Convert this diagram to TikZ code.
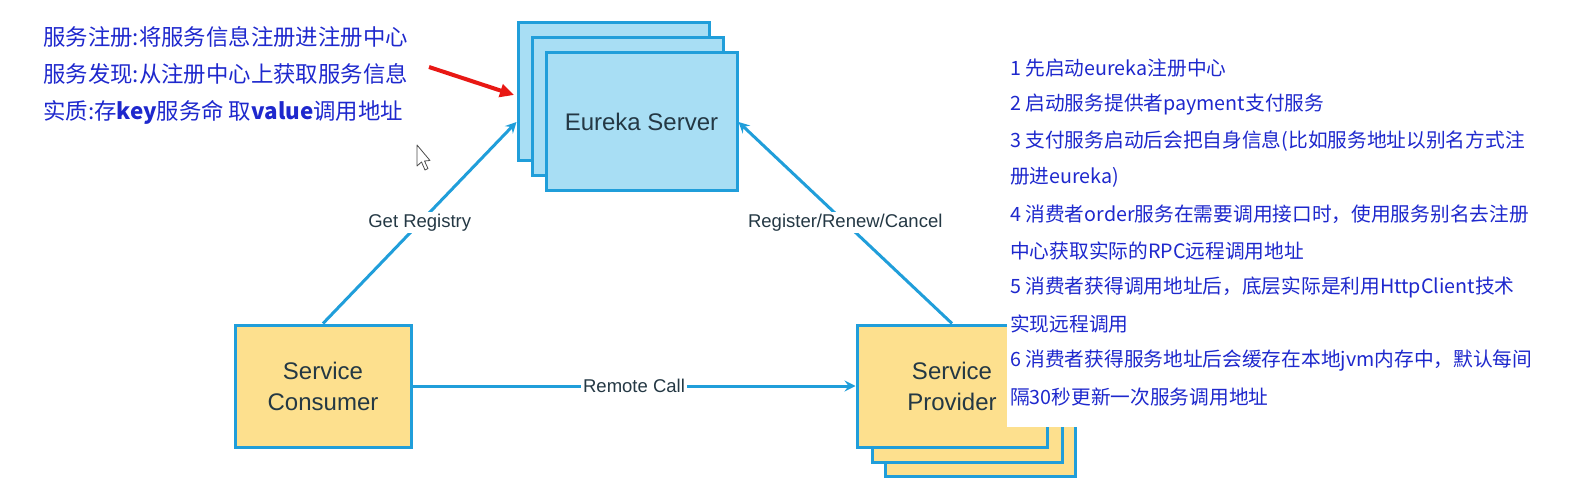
\documentclass[tikz,border=0pt]{standalone}
\usepackage{fontspec}
\setmainfont{Liberation Sans}
\newfontfamily\cjk{Noto Sans CJK SC}
\usetikzlibrary{arrows.meta}

\definecolor{eurekafill}{RGB}{168,222,244}
\definecolor{edgeblue}{RGB}{32,158,218}
\definecolor{svcfill}{RGB}{253,224,142}
\definecolor{labeltext}{RGB}{36,56,68}
\definecolor{noteblue}{RGB}{30,40,205}
\definecolor{pointred}{RGB}{232,24,20}

\begin{document}
\begin{tikzpicture}[x=1pt,y=-1pt,
    eurekabox/.style={draw=edgeblue,line width=3pt,fill=eurekafill,minimum width=191pt,minimum height=138pt,inner sep=0pt,text=labeltext},
    servicebox/.style={draw=edgeblue,line width=3pt,fill=svcfill,minimum width=190pt,minimum height=122pt,inner sep=0pt,text=labeltext,align=center,font=\fontsize{24}{31}\selectfont},
    flowarrow/.style={draw=edgeblue,line width=3pt,-{Stealth[length=11pt,width=11pt,inset=4pt]}},
    flowlabel/.style={fill=white,text=labeltext,font=\fontsize{18.5}{22}\selectfont,inner sep=2pt},
    note/.style={anchor=west,inner sep=0pt,text=noteblue}]
    \useasboundingbox (0,0) rectangle (1569,481);

    % Eureka server stack
    \node[eurekabox] (eurekaA) at (613.5,91.5) {};
    \node[eurekabox] (eurekaB) at (627.5,106.5) {};
    \node[eurekabox,font=\fontsize{24}{28}\selectfont] (eureka) at (641.5,122) {Eureka Server};

    % Consumer and provider stack
    \node[servicebox,minimum width=176pt] (consumer) at (323,386) {Service\\Consumer};
    \node[servicebox] (providerC) at (980,415.5) {};
    \node[servicebox] (providerB) at (967,401) {};
    \node[servicebox] (provider) at (952,386) {Service\\Provider};

    % Connectors
    \draw[flowarrow] (consumer.north) -- (eurekaA.west |- eureka.center)
        node[midway,flowlabel] {Get Registry};
    \draw[flowarrow] (provider.north) -- (eureka.east)
        node[midway,flowlabel] {Register/Renew/Cancel};
    \draw[flowarrow] (consumer.east) -- (provider.west)
        node[midway,flowlabel] {Remote Call};

    % Notes panel over the provider
    \fill[white] (1007,40) rectangle (1569,427);
    \foreach \line [count=\i] in {1 先启动eureka注册中心, 2 启动服务提供者payment支付服务,
        3 支付服务启动后会把自身信息(比如服务地址以别名方式注, 册进eureka),
        4 消费者order服务在需要调用接口时，使用服务别名去注册, 中心获取实际的RPC远程调用地址,
        5 消费者获得调用地址后，底层实际是利用HttpClient技术, 实现远程调用,
        6 消费者获得服务地址后会缓存在本地jvm内存中，默认每间, 隔30秒更新一次服务调用地址}
        \node[note,font=\cjk\fontsize{19.7}{23}\selectfont] (hint\i) at (1010,{68+36.6*(\i-1)}) {\line};

    % Left notes
    \node[note,font=\cjk\fontsize{22.4}{26}\selectfont] (intro1) at (43,37) {服务注册:将服务信息注册进注册中心};
    \node[note,font=\cjk\fontsize{22.4}{26}\selectfont] (intro2) at (43,74) {服务发现:从注册中心上获取服务信息};
    \node[note,font=\cjk\fontsize{22.4}{26}\selectfont] (intro3) at (43,112) {实质:存{\bfseries key}服务命 取{\bfseries value}调用地址};

    % Red pointer
    \coordinate (redtail) at (429,67);
    \coordinate (redtip) at (514,95);
    \draw[pointred,line width=4pt,-{Triangle[length=14pt,width=13pt]}] (redtail) -- (redtip);

    % Mouse cursor
    \draw[black!70,fill=white,line width=0.8pt,line join=round]
        (417,145) -- (417,166) -- (421.5,162) -- (425,170) -- (428,168.5) -- (424.5,161) -- (430,160.5) -- cycle;
\end{tikzpicture}
\end{document}
